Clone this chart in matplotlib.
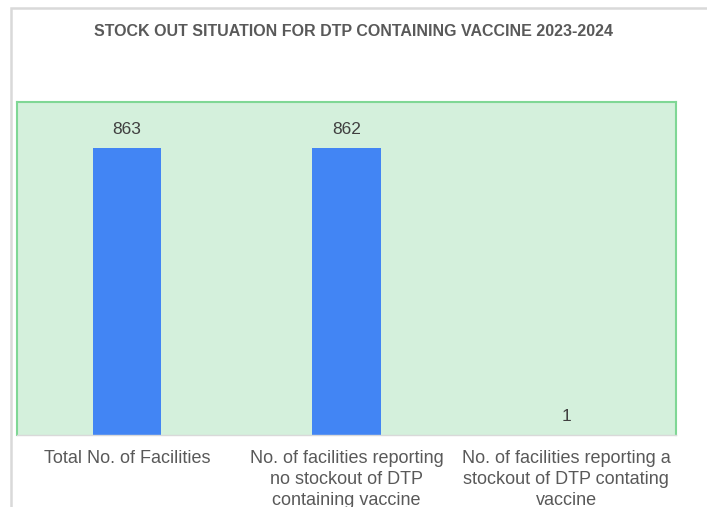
import matplotlib.pyplot as plt
from matplotlib.patches import Rectangle

categories = ['Total No. of Facilities',
              'No. of facilities reporting\nno stockout of DTP\ncontaining vaccine',
              'No. of facilities reporting a\nstockout of DTP contating\nvaccine']
values = [863, 862, 1]

plt.rcParams['font.family'] = ['Liberation Sans', 'DejaVu Sans']

fig = plt.figure(figsize=(7.07, 5.07), dpi=100)
# outer chart frame (light gray)
fig.patches.append(Rectangle((11 / 707, -0.1), 1.2, 1 - 8 / 507 + 0.1,
                             transform=fig.transFigure, fill=False,
                             edgecolor='#d9d9d9', linewidth=1.8))

ax = fig.add_axes([17 / 707, 1 - 435 / 507, (676 - 17) / 707, (435 - 102) / 507])
ax.set_facecolor('#d4f0dc')
for s in ['left', 'right', 'top']:
    ax.spines[s].set_color('#7fd795')
    ax.spines[s].set_linewidth(1.5)
ax.spines['bottom'].set_color('#d9d9d9')
ax.spines['bottom'].set_linewidth(1)

x = range(len(values))
bars = ax.bar(x, values, width=0.31, color='#4285f4')
ax.bar_label(bars, labels=[str(v) for v in values], padding=8,
             fontsize=12.5, color='#404040')
ax.set_xlim(-0.5, 2.5)
ax.set_ylim(0, 1000)
ax.set_yticks([])
ax.set_xticks(list(x))
ax.set_xticklabels(categories, fontsize=13, color='#595959', linespacing=1.3)
ax.tick_params(axis='x', length=0, pad=11)

fig.text(353 / 707, 1 - 32 / 507, 'STOCK OUT SITUATION FOR DTP CONTAINING VACCINE 2023-2024',
         ha='center', va='center', fontsize=11.5, fontweight='bold', color='#595959')

fig.savefig('out.png', dpi=100)
